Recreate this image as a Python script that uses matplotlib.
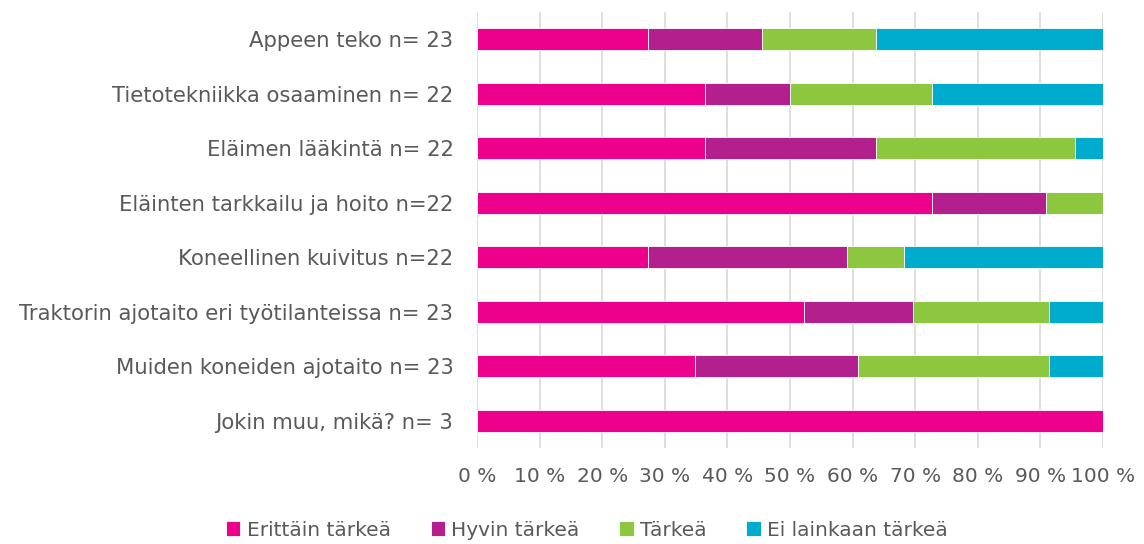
import matplotlib
matplotlib.use("Agg")
import matplotlib.pyplot as plt
import numpy as np

categories = [
    "Appeen teko n= 23",
    "Tietotekniikka osaaminen n= 22",
    "Eläimen lääkintä n= 22",
    "Eläinten tarkkailu ja hoito n=22",
    "Koneellinen kuivitus n=22",
    "Traktorin ajotaito eri työtilanteissa n= 23",
    "Muiden koneiden ajotaito n= 23",
    "Jokin muu, mikä? n= 3",
]
series_names = ["Erittäin tärkeä", "Hyvin tärkeä", "Tärkeä", "Ei lainkaan tärkeä"]
erittain = [27.3, 36.4, 36.4, 72.7, 27.3, 52.2, 34.8, 100.0]
hyvin = [18.2, 13.6, 27.3, 18.2, 31.8, 17.4, 26.1, 0.0]
tarkea = [18.2, 22.7, 31.8, 9.1, 9.1, 21.7, 30.4, 0.0]
ei = [36.3, 27.3, 4.5, 0.0, 31.8, 8.7, 8.7, 0.0]
xticks = list(range(0, 101, 10))
xtick_labels = [f"{t} %" for t in xticks]

colors = ["#EC008C", "#B41F8E", "#8DC63F", "#00ACCD"]
text_color = "#595959"

fig = plt.figure(figsize=(11.44, 5.44), dpi=100)
ax = fig.add_axes([477/1144, 1-448/544, (1103-477)/1144, (448-12)/544])

y = np.arange(len(categories))
left = np.zeros(len(categories))
for vals, name, c in zip([erittain, hyvin, tarkea, ei], series_names, colors):
    v = np.array(vals)
    ax.barh(y, v, left=left, height=0.4, color=c, label=name,
            edgecolor="white", linewidth=0.6, zorder=3)
    left += v

ax.set_ylim(len(categories) - 0.5, -0.5)
ax.set_xlim(0, 100)
ax.set_xticks(xticks)
ax.set_xticklabels(xtick_labels)
ax.set_yticks(y)
ax.set_yticklabels(categories)
ax.tick_params(axis="y", length=0, labelsize=15.2, colors=text_color, pad=17)
ax.tick_params(axis="x", length=0, labelsize=14.5, colors=text_color, pad=14)
for s in ax.spines.values():
    s.set_visible(False)
ax.grid(axis="x", color="#D9D9D9", linewidth=1.2, zorder=0)
ax.set_axisbelow(True)

handles, labels = ax.get_legend_handles_labels()
fig.legend(handles, labels, loc="center", bbox_to_anchor=(0.513, 1-530/544),
           ncol=4, frameon=False, fontsize=14.5, handlelength=0.7, handleheight=0.7,
           handletextpad=0.3, columnspacing=2.0, labelcolor=text_color)

fig.savefig("out.png", dpi=100)
